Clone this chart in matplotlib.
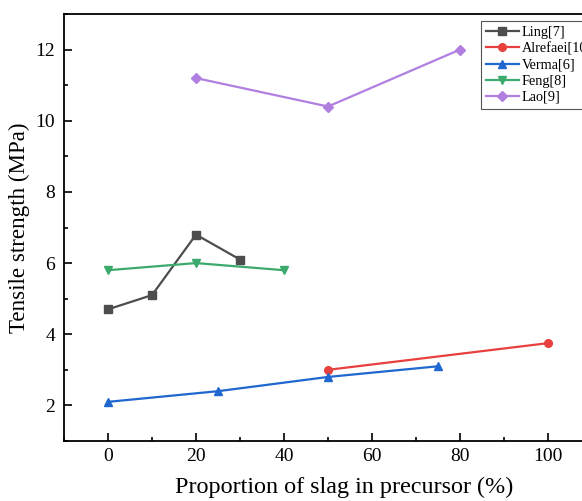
import numpy as np
import matplotlib.pyplot as plt
from matplotlib.ticker import MultipleLocator

plt.rcParams['font.family'] = ['Liberation Serif', 'DejaVu Serif']

## data

ling_x = [0, 10, 20, 30]
ling_y = [4.7, 5.1, 6.8, 6.1]

alrefaei_x = [50, 100]
alrefaei_y = [3.0, 3.75]

verma_x = [0, 25, 50, 75]
verma_y = [2.1, 2.4, 2.8, 3.1]

feng_x = [0, 20, 40]
feng_y = [5.8, 6.0, 5.8]

lao_x = [20, 50, 80]
lao_y = [11.2, 10.4, 12.0]

## plot

fig = plt.figure(figsize=(5.82, 5.01), dpi=100)
# right spine sits just outside the image, like the reference
ax = fig.add_axes([64 / 582, 60 / 501, 528 / 582, 427 / 501])

lw, ms = 1.6, 5.5
ax.plot(ling_x, ling_y, '-s', color='#4d4d4d', lw=lw, ms=ms, label='Ling[7]')
ax.plot(alrefaei_x, alrefaei_y, '-o', color='#e8403f', lw=lw, ms=ms, label='Alrefaei[10]')
ax.plot(verma_x, verma_y, '-^', color='#2067cf', lw=lw, ms=ms, label='Verma[6]')
ax.plot(feng_x, feng_y, '-v', color='#3caa6c', lw=lw, ms=ms, label='Feng[8]')
ax.plot(lao_x, lao_y, '-D', color='#b07fe0', lw=lw, ms=ms - 0.5, label='Lao[9]')

ax.set_xlim(-10, 110)
ax.set_ylim(1, 13)
ax.xaxis.set_major_locator(MultipleLocator(20))
ax.xaxis.set_minor_locator(MultipleLocator(10))
ax.yaxis.set_major_locator(MultipleLocator(2))
ax.yaxis.set_minor_locator(MultipleLocator(1))
ax.tick_params(which='both', direction='in', top=False, right=False,
               width=1.2, labelsize=14)
ax.tick_params(axis='x', pad=5)
ax.tick_params(axis='y', pad=6.5)
ax.tick_params(which='major', length=6)
ax.tick_params(which='minor', length=3)
for s in ax.spines.values():
    s.set_linewidth(1.3)

ax.set_xlabel('Proportion of slag in precursor (%)', fontsize=17.4)
ax.xaxis.set_label_coords(0.53, -0.085)
ax.set_ylabel('Tensile strength (MPa)', fontsize=16.6, labelpad=4)

leg = ax.legend(loc='upper left', bbox_to_anchor=((481 - 64) / 528, (441 - 21) / 427),
                borderaxespad=0, fontsize=10.3, handlelength=2.3, handletextpad=0.2,
                labelspacing=0.22, borderpad=0.35, fancybox=False,
                edgecolor='#555555', framealpha=1)
leg.get_frame().set_linewidth(0.8)

plt.savefig('out.png', dpi=100)
